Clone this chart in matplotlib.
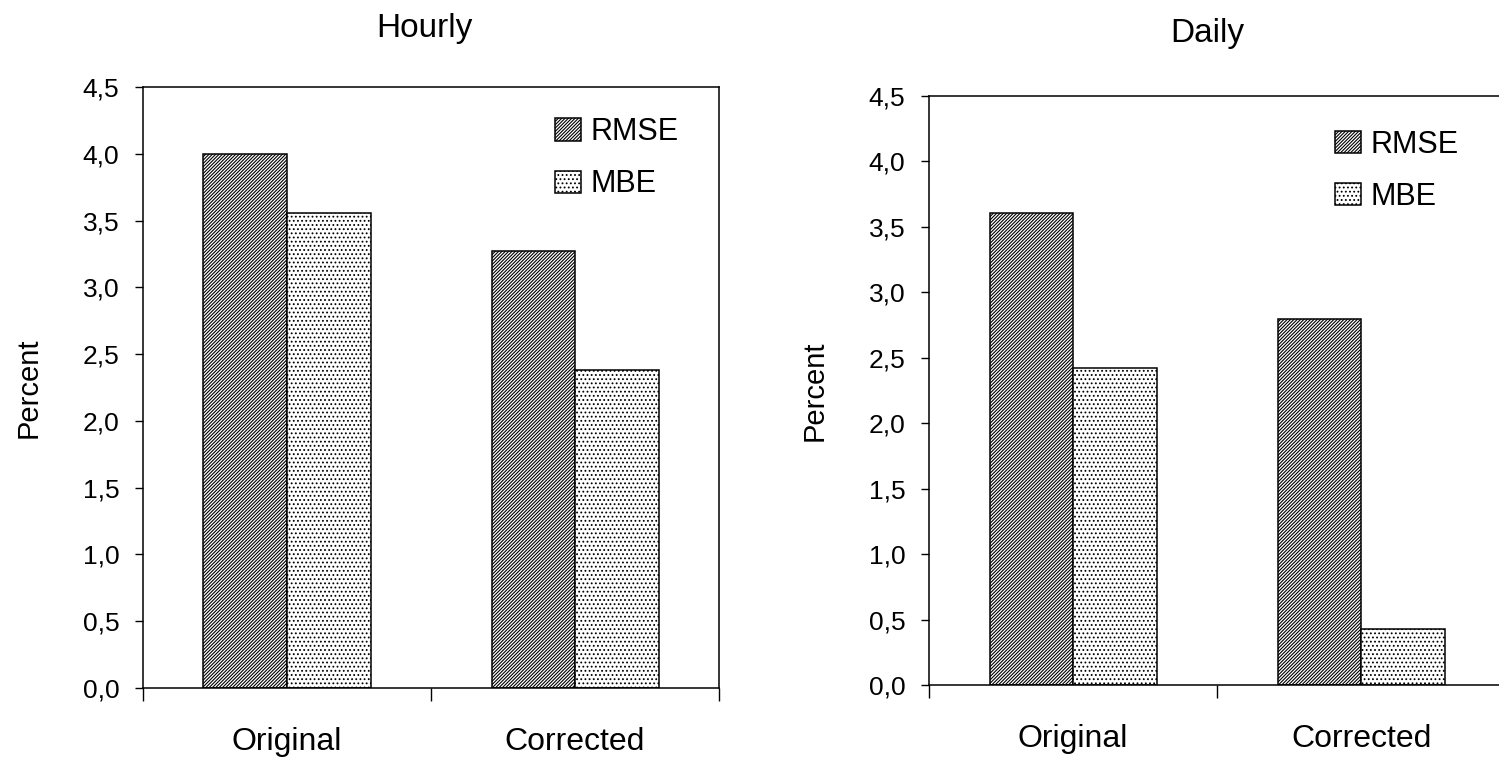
import matplotlib
matplotlib.use("Agg")
import matplotlib.pyplot as plt
from matplotlib.ticker import FuncFormatter, FixedLocator
import numpy as np

plt.rcParams["font.family"] = ["Liberation Sans", "DejaVu Sans"]
plt.rcParams["hatch.linewidth"] = 0.8

categories = ["Original", "Corrected"]
series = ["RMSE", "MBE"]
hourly_rmse = [4.00, 3.27]
hourly_mbe = [3.56, 2.38]
daily_rmse = [3.61, 2.80]
daily_mbe = [2.42, 0.43]
y_ticks = [0.0, 0.5, 1.0, 1.5, 2.0, 2.5, 3.0, 3.5, 4.0, 4.5]

fig = plt.figure(figsize=(14.99, 7.62), dpi=100)
fig.patch.set_facecolor("white")

# left panel: hourly, right panel: daily (runs off the right edge)
ax1 = fig.add_axes([0.0954, 0.0971, 0.3843, 0.7887])
ax2 = fig.add_axes([0.6198, 0.1010, 0.3843, 0.7730])


def comma(v, pos):
    return ("%.1f" % v).replace(".", ",")


def draw_panel(ax, title, rmse, mbe, title_x, title_pad, legend_anchor):
    x = np.arange(len(categories))
    w = 0.29
    ax.bar(x - w / 2, rmse, w, color="white", edgecolor="black",
           hatch="/" * 10, linewidth=1.1, label=series[0])
    ax.bar(x + w / 2, mbe, w, color="white", edgecolor="black",
           hatch="....", linewidth=1.1, label=series[1])
    ax.set_xlim(-0.5, 1.5)
    ax.set_ylim(0, 4.5)
    ax.yaxis.set_major_locator(FixedLocator(y_ticks))
    ax.yaxis.set_major_formatter(FuncFormatter(comma))
    ax.tick_params(axis="y", direction="out", length=6, width=1.0,
                   labelsize=19, pad=11)
    # group separators as ticks, category names as minor labels
    ax.set_xticks([-0.5, 0.5, 1.5])
    ax.set_xticklabels([])
    ax.tick_params(axis="x", which="major", direction="out", length=9,
                   width=1.0)
    ax.set_xticks([0, 1], minor=True)
    ax.set_xticklabels(categories, minor=True, fontsize=23)
    ax.tick_params(axis="x", which="minor", length=0, pad=28)
    for s in ax.spines.values():
        s.set_linewidth(1.1)
    ax.set_ylabel("Percent", fontsize=21, labelpad=29)
    ax.set_title(title, fontsize=24, x=title_x, pad=title_pad)
    ax.legend(loc="upper left", bbox_to_anchor=legend_anchor,
              frameon=False, fontsize=22, handlelength=0.85,
              handleheight=0.75, handletextpad=0.3, labelspacing=0.73,
              borderaxespad=0, borderpad=0)


draw_panel(ax1, "Hourly", hourly_rmse, hourly_mbe, 0.488, 36,
           (0.715, 0.950))
draw_panel(ax2, "Daily", daily_rmse, daily_mbe, 0.483, 39,
           (0.705, 0.943))

fig.savefig("out.png", dpi=100)
